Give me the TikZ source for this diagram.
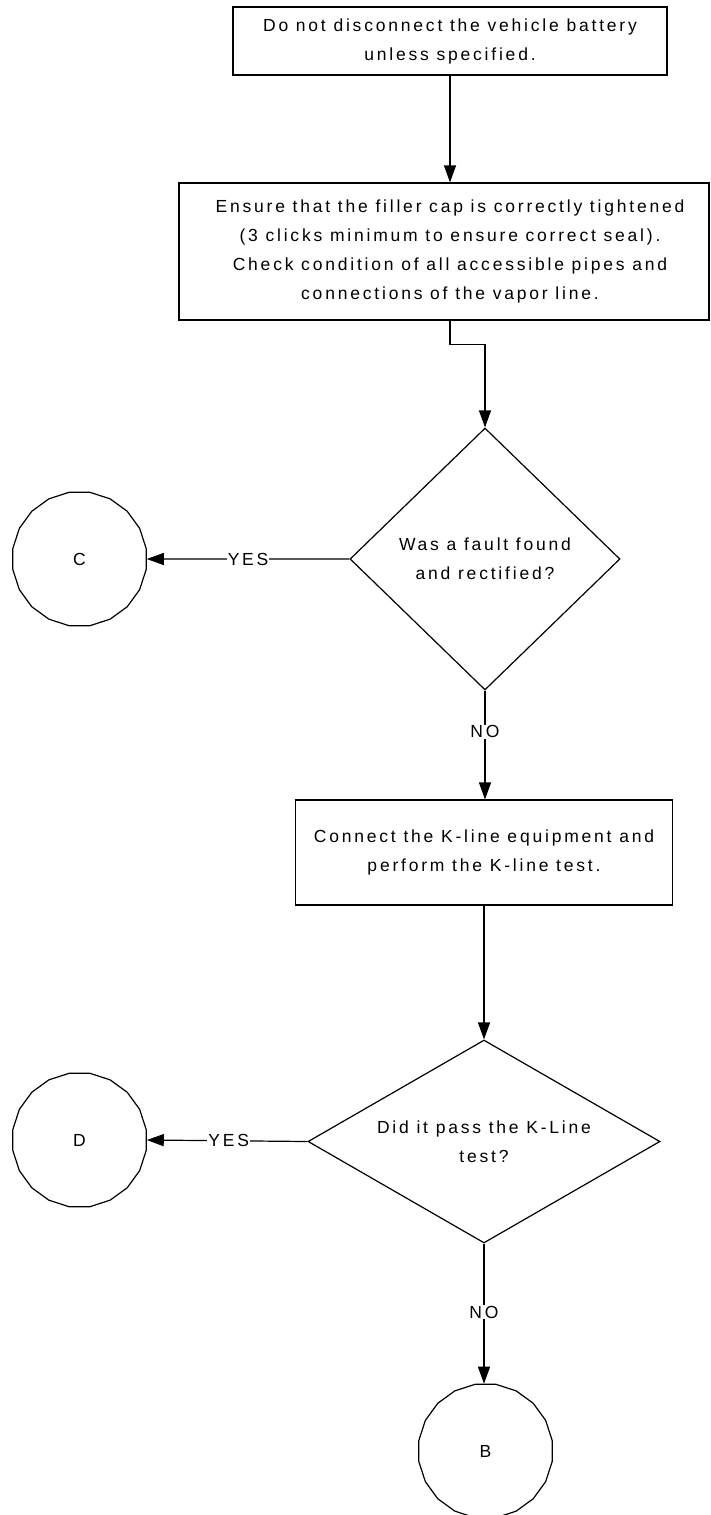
\documentclass[tikz,border=0pt]{standalone}
\usepackage{fontspec}
\setmainfont{Liberation Sans}[LetterSpace=16]
\usetikzlibrary{shapes.geometric,arrows.meta}
\begin{document}
\begin{tikzpicture}[x=1pt,y=-1pt,
  line width=1.2pt,
  txt/.style={font=\fontsize{17.5}{29}\selectfont, align=center},
  stepbox/.style={draw, rectangle, inner sep=0pt, txt},
  decision/.style={draw, diamond, inner sep=0pt, txt},
  connector/.style={draw, regular polygon, regular polygon sides=20, inner sep=0pt, minimum size=135pt, font=\fontsize{17.5}{20}\selectfont},
  flow/.style={-{Triangle[length=17pt,width=12pt]}},
  tag/.style={fill=white, inner sep=1pt, font=\fontsize{17.5}{20}\selectfont}]
\useasboundingbox (0,0) rectangle (710,1515);

\node[stepbox, minimum width=434pt, minimum height=68pt] (b1) at (450,41)
  {Do not disconnect the vehicle battery\\unless specified.};
\node[stepbox, minimum width=530pt, minimum height=137pt,
  label={[txt, xshift=6pt]center:Ensure that the filler cap is correctly tightened\\(3 clicks minimum to ensure correct seal).\\Check condition of all accessible pipes and\\connections of the vapor line.}] (b2) at (444,251.5) {};
\node[decision, minimum width=270pt, minimum height=262pt,
  label={[txt]center:Was a fault found\\and rectified?}] (d1) at (485,559) {};
\node[connector] (c) at (79.5,559) {C};
\node[stepbox, minimum width=377pt, minimum height=105pt] (b3) at (484,852.5)
  {Connect the K-line equipment and\\perform the K-line test.};
\node[decision, minimum width=352pt, minimum height=203pt,
  label={[txt]center:Did it pass the K-Line\\test?}] (d2) at (484,1141.5) {};
\node[connector] (d) at (79.5,1140) {D};
\node[connector] (b) at (485.5,1451) {B};

\draw[flow] (b1.south) -- (b2.north -| b1.south);
\draw[flow] (b2.south -| b1.south) -- ++(0,24) -| (d1.north);
\draw[flow] (d1.west) -- node[tag, pos=0.5] {YES} (c.east);
\draw[flow] (d1.south) -- node[tag, pos=0.38] {NO} (b3.north -| d1.south);
\draw[flow] (b3.south -| d2.north) -- (d2.north);
\draw[flow] (d2.west) -- node[tag, pos=0.49] {YES} (d.east);
\draw[flow] (d2.south) -- node[tag, pos=0.49] {NO} (b.north -| d2.south);
\end{tikzpicture}
\end{document}
